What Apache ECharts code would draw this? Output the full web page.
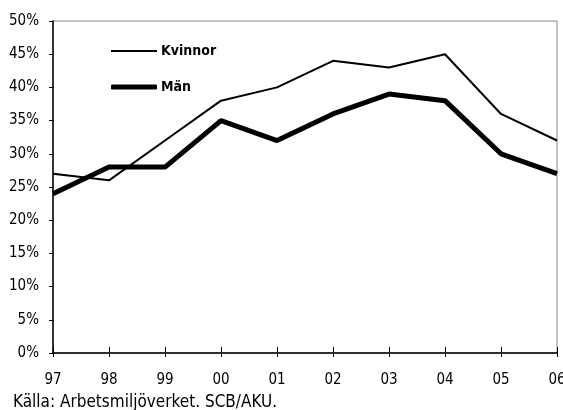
<!DOCTYPE html>
<html><head><meta charset="utf-8">
<script src="https://cdn.jsdelivr.net/npm/echarts@6/dist/echarts.min.js"></script>
<style>html,body{margin:0;padding:0;background:#fff}#c{width:563px;height:410px}</style>
</head><body><div id="c"></div>
<script>
const years = ['97','98','99','00','01','02','03','04','05','06'];
const kvinnor = [27, 26, 32, 38, 40, 44, 43, 45, 36, 32];
const man = [24, 28, 28, 35, 32, 36, 39, 38, 30, 27];
const yTicks = [0, 5, 10, 15, 20, 25, 30, 35, 40, 45, 50];
const source = 'Källa: Arbetsmiljöverket. SCB/AKU.';
const FONT = '"Liberation Sans Narrow","DejaVu Sans Condensed","Roboto Condensed",sans-serif';

const chart = echarts.init(document.getElementById('c'), null, {renderer:'canvas'});
chart.setOption({
  animation:false,
  backgroundColor:'#fff',
  grid: {left:53, right:6, top:21, bottom:57, show:true, borderColor:'#888', borderWidth:1,
         backgroundColor:'transparent', containLabel:false, outerBoundsMode:'none'},
  legend: [
    {data:[{name:'Kvinnor', icon:'rect'}], left:111, top:44, padding:0, itemWidth:46, itemHeight:2, itemGap:0,
     textStyle:{fontFamily:FONT, fontWeight:'bold', fontSize:14, color:'#000', padding:[0,0,0,-1]}, selectedMode:false},
    {data:[{name:'Män', icon:'roundRect'}], left:111, top:80, padding:0, itemWidth:46, itemHeight:5, itemGap:0,
     textStyle:{fontFamily:FONT, fontWeight:'bold', fontSize:14, color:'#000', padding:[0,0,0,-1]}, selectedMode:false}
  ],
  xAxis: [
    {type:'category', data:years, boundaryGap:false,
     axisLine:{lineStyle:{color:'#000', width:1.5}},
     axisTick:{show:true, length:4, lineStyle:{color:'#000', width:1}},
     axisLabel:{fontFamily:FONT, fontSize:15, color:'#000', margin:20},
     splitLine:{show:false}},
    {type:'category', data:years, boundaryGap:false, position:'bottom',
     axisLine:{show:false},
     axisTick:{show:true, inside:true, length:6, lineStyle:{color:'#000', width:1}},
     axisLabel:{show:false}, splitLine:{show:false}}
  ],
  yAxis: {type:'value', min:0, max:50, interval:5,
    axisLine:{show:true, lineStyle:{color:'#000', width:1.5}},
    axisTick:{show:true, length:4, lineStyle:{color:'#000', width:1}},
    axisLabel:{fontFamily:FONT, fontSize:15, color:'#000', margin:14,
      formatter: v => yTicks.includes(v) ? v + '%' : ''},
    splitLine:{show:false}},
  series: [
    {name:'Kvinnor', type:'line', data:kvinnor, symbol:'none', color:'#000',
     lineStyle:{color:'#000', width:2}, z:3},
    {name:'Män', type:'line', data:man, symbol:'none', color:'#000',
     lineStyle:{color:'#000', width:5}, z:4}
  ],
  graphic: [
    {type:'text', left:13, top:394, style:{text:source, font:'17px ' + FONT, fill:'#000'}}
  ]
});
</script></body></html>
